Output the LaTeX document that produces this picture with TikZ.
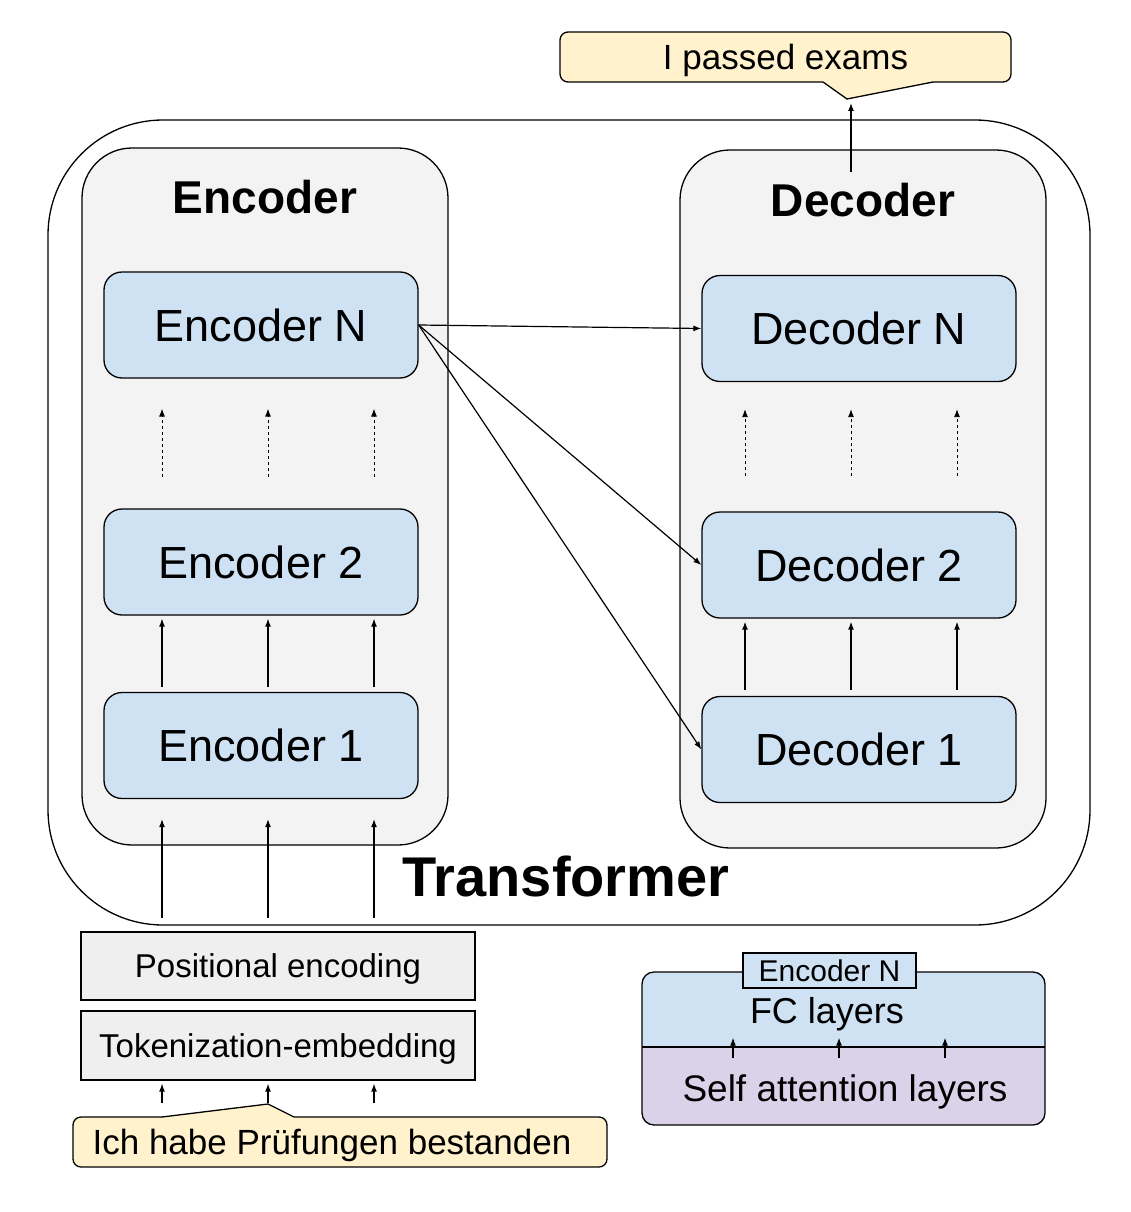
\documentclass[tikz,border=0pt]{standalone}
\usepackage{fontspec}
\setmainfont{Liberation Sans}
\usetikzlibrary{arrows.meta,positioning}
\definecolor{layerblue}{HTML}{CFE2F3}
\definecolor{stackgray}{HTML}{F3F3F3}
\definecolor{prepgray}{HTML}{EFEFEF}
\definecolor{noteyellow}{HTML}{FFF2CC}
\definecolor{attpurple}{HTML}{D9D2E9}

\begin{document}
\begin{tikzpicture}[x=1pt,y=-1pt,line width=1.3pt,
		layer/.style={draw, rounded corners=18pt, fill=layerblue, minimum width=314pt, minimum height=106pt, font=\fontsize{45}{54}\selectfont},
		stack/.style={draw, rounded corners=50pt, fill=stackgray, minimum width=366pt, minimum height=698pt},
		title/.style={font=\fontsize{46}{55}\selectfont\bfseries},
		prep/.style={draw, fill=prepgray, minimum width=394pt, minimum height=68pt, text depth=0pt, font=\fontsize{33}{40}\selectfont},
		note/.style={draw, rounded corners=8pt, fill=noteyellow, minimum height=50pt, text depth=0pt, font=\fontsize{35}{42}\selectfont},
		flow/.style={-{Latex[length=8pt,width=6pt]}, line width=1.2pt},
		skip/.style={flow, line width=0.9pt, dash pattern=on 3pt off 3pt}]
		\useasboundingbox (0,0) rectangle (1130,1212);

		\draw (569,522.5) node [draw, rounded corners=115pt, minimum width=1042pt, minimum height=805pt] (trans) {};
		\draw (566,876) node [font=\fontsize{56}{67}\selectfont\bfseries] (transname) {Transformer};

		\draw (265,496.5) node [stack, minimum height=697pt] (encstack) {};
		\draw (863,499) node [stack] (decstack) {};
		\draw (265,197) node [title] (enctitle) {Encoder};
		\draw (863,200) node [title] (dectitle) {Decoder};

		\draw (261,325) node [layer] (encN) {Encoder N};
		\draw (261,562) node [layer] (enc2) {Encoder 2};
		\draw (261,745.5) node [layer] (enc1) {Encoder 1};
		\draw (859,328.5) node [layer] (decN) {Decoder N};
		\draw (859,565) node [layer] (dec2) {Decoder 2};
		\draw (859,749.5) node [layer] (dec1) {Decoder 1};

		\draw (278,966) node [prep] (pos) {Positional encoding};
		\draw (278,1045.5) node [prep, minimum height=69pt] (tok) {Tokenization-embedding};

		% callouts
		\draw (340,1142) node [note, minimum width=534pt] (ich) {Ich habe Prüfungen bestanden\hspace*{16pt}};
		\coordinate (ichtip) at (268,1104);
		\fill [noteyellow] (162,1120) -- (162,1117) -- (ichtip) -- (294,1117) -- (294,1120) -- cycle;
		\draw (162,1117) -- (ichtip) -- (294,1117);

		\draw (785.5,57) node [note, minimum width=451pt] (pass) {I passed exams};
		\coordinate (passtip) at (847,99);
		\fill [noteyellow] (823,79) -- (823,82) -- (passtip) -- (933,82) -- (933,79) -- cycle;
		\draw (823,82) -- (passtip) -- (933,82);

		% arrows
		\foreach \x [count=\i] in {162,268,374} {
			\coordinate (in\i) at (\x,918);
			\draw [flow, shorten <=13pt, shorten >=3pt] (in\i |- ich.north) -- (in\i |- tok.south);
			\draw [flow, shorten >=20pt] (in\i) -- (in\i |- enc1.south);
			\draw [flow, shorten <=5pt, shorten >=3pt] (in\i |- enc1.north) -- (in\i |- enc2.south);
			\draw [skip, shorten <=31pt, shorten >=30pt] (in\i |- enc2.north) -- (in\i |- encN.south);
		}
		\foreach \x [count=\i] in {745,851,957} {
			\coordinate (out\i) at (\x,690);
			\draw [flow, shorten >=3pt] (out\i) -- (out\i |- dec2.south);
			\draw [skip, shorten <=35pt, shorten >=27pt] (out\i |- dec2.north) -- (out\i |- decN.south);
		}
		\draw
			(encN.east) edge [flow] (decN.west)
			(encN.east) edge [flow] (dec2.west)
			(encN.east) edge [flow] (dec1.west)
		;
		\coordinate (outtop) at (851,172);
		\draw [flow, shorten >=4pt] (outtop) -- (outtop |- passtip);

		% legend
		\begin{scope}
			\clip [rounded corners=12pt] (642,972) rectangle (1045,1125);
			\fill [layerblue] (642,972) rectangle (1045,1047);
			\fill [attpurple] (642,1047) rectangle (1045,1125);
		\end{scope}
		\draw [rounded corners=12pt] (642,972) rectangle (1045,1125);
		\draw (642,1047) -- (1045,1047);
		\draw (829.5,970.5) node [draw, fill=layerblue, minimum width=173pt, minimum height=35pt, font=\fontsize{30}{36}\selectfont] (legname) {Encoder N};
		\draw (827,1010) node [text depth=0pt, font=\fontsize{36}{43}\selectfont] (fc) {FC layers};
		\draw (845,1088) node [text depth=0pt, font=\fontsize{37}{44}\selectfont] (att) {Self attention layers};
		\foreach \x [count=\i] in {733,839,945} {
			\coordinate (att\i) at (\x,1058);
			\draw [flow] (att\i) -- (att\i |- legname.south) [shorten >=49pt];
		}
	\end{tikzpicture}
\end{document}
